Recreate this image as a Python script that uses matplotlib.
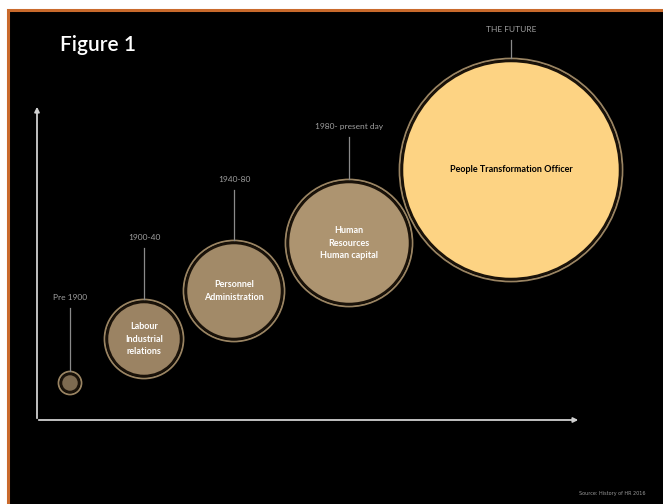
import matplotlib.pyplot as plt
from matplotlib.patches import Circle, Rectangle

# eras along the timeline, the role in each circle, circle size and place
eras = ["Pre 1900", "1900-40", "1940-80", "1980- present day", "THE FUTURE"]
roles = ["", "Labour\nIndustrial\nrelations", "Personnel\nAdministration",
         "Human\nResources\nHuman capital", "People Transformation Officer"]
radius = [9, 37, 48, 61, 109]
cx = [70, 144, 234, 349, 511]
cy = [383, 339, 291, 243, 170]
label_y = [298, 238, 180, 127, 30]
fills = ["#7d6a50", "#9b8363", "#a28a68", "#ad9470", "#fdd383"]
text_cols = ["white", "white", "white", "white", "black"]

fig = plt.figure(figsize=(6.63, 5.04), dpi=100)
fig.patch.set_facecolor("white")
ax = fig.add_axes([0, 0, 1, 1])
ax.set_xlim(0, 663)
ax.set_ylim(504, 0)
ax.set_aspect("equal")
ax.axis("off")

# black panel with orange frame
ax.add_patch(Rectangle((8, 10), 670, 510, facecolor="black",
                       edgecolor="#c96a2c", lw=2.2))

ax.text(60, 45, "Figure 1", color="white", fontsize=15, fontfamily="Lato",
        fontweight="semibold", va="center", ha="left")

# axes arrows
ax.annotate("", xy=(37, 104), xytext=(37, 421),
            arrowprops=dict(arrowstyle="-|>", color="#d0d0d0", lw=1.3,
                            mutation_scale=7))
ax.annotate("", xy=(581, 420), xytext=(36, 420),
            arrowprops=dict(arrowstyle="-|>", color="#d0d0d0", lw=1.3,
                            mutation_scale=7))

for i in range(len(eras)):
    r = radius[i]
    ax.add_patch(Circle((cx[i], cy[i]), r + 2.5, facecolor="none",
                        edgecolor="#9a8462", lw=1.3))
    ax.add_patch(Circle((cx[i], cy[i]), r, facecolor=fills[i],
                        edgecolor="#1a1209", lw=1.8))
    # stem from era label down to circle
    ax.plot([cx[i], cx[i]], [label_y[i] + 10, cy[i] - r - 3],
            color="#8a8a8a", lw=0.9)
    ax.text(cx[i], label_y[i], eras[i], color="#a0a0a0", fontsize=6,
            fontfamily="Lato", ha="center", va="center")
    if roles[i]:
        ax.text(cx[i], cy[i], roles[i], color=text_cols[i], fontsize=6.5,
                fontfamily="Lato", fontweight="bold", ha="center",
                va="center", linespacing=1.5)

ax.text(612, 494, "Source: History of HR 2016", color="#9a9a9a",
        fontsize=3.5, ha="center", va="center")

fig.savefig("out.png", dpi=100, facecolor=fig.get_facecolor())
